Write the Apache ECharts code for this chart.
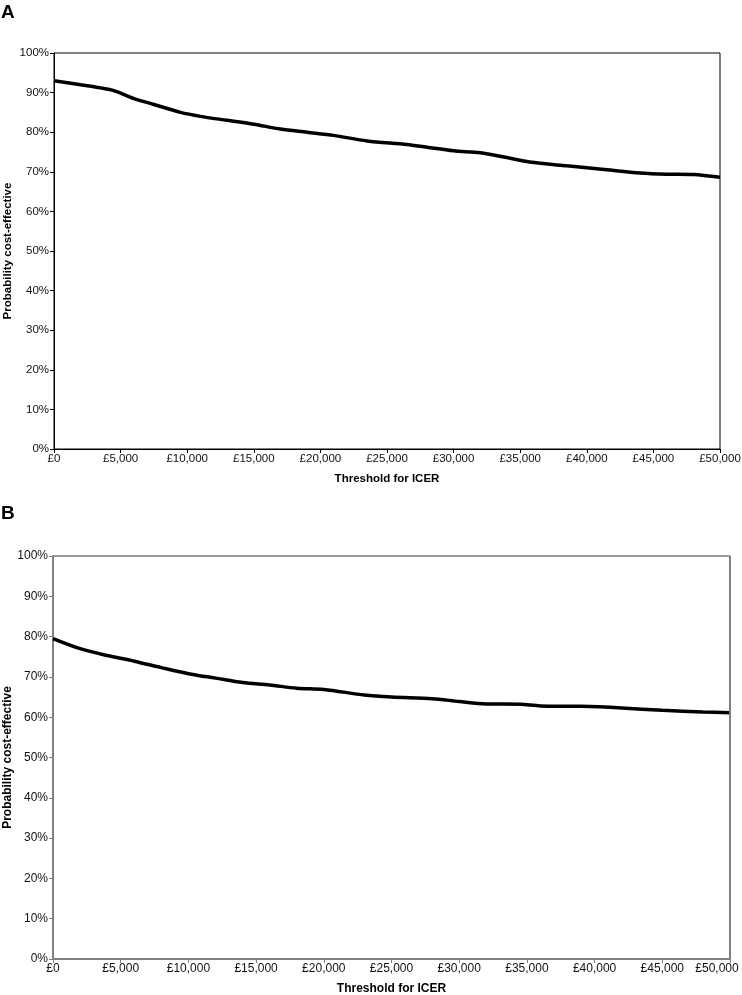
<!DOCTYPE html>
<html>
<head>
<meta charset="utf-8">
<script src="https://cdn.jsdelivr.net/npm/echarts@6/dist/echarts.min.js"></script>
<style>
html,body{margin:0;padding:0;background:#fff;}
#chart{width:742px;height:995px;}
</style>
</head>
<body>
<div id="chart"></div>
<script>
// Panel A: threshold (£) and probability cost-effective (%)
const thresholdA = [0,2000,3500,4500,6000,7500,9500,11000,13000,15000,17000,19000,21000,23500,26500,28000,30000,32000,34000,35700,38500,41500,44000,46000,48000,50000];
const probA      = [93.0,92.0,91.2,90.5,88.5,87.0,85.0,84.0,83.0,82.0,80.8,80.0,79.2,77.8,76.9,76.2,75.3,74.8,73.6,72.5,71.5,70.5,69.7,69.4,69.3,68.6];
// Panel B
const thresholdB = [0,2000,4000,6000,8000,10000,12000,14000,16000,18000,20000,23000,25000,28000,30000,32000,34500,36000,39000,42000,45000,48000,50000];
const probB      = [79.5,77.0,75.3,73.9,72.3,70.8,69.7,68.6,68.0,67.2,66.9,65.5,65.0,64.6,63.9,63.3,63.2,62.8,62.7,62.3,61.7,61.3,61.1];
// Axis ticks
const xTicks = {min:0, max:50000, interval:5000};
const yTicks = {min:0, max:100, interval:10};
const panelLabels = ['A','B'];
const xTitle = 'Threshold for ICER';
const yTitle = 'Probability cost-effective';

const fmtNum = v => String(v).replace(/\B(?=(\d{3})+(?!\d))/g, ',');
const font = 'Liberation Sans, Arial, sans-serif';

function pairs(xs, ys){ return xs.map((x,i)=>[x, ys[i]]); }

function xAxis(idx, fs, lineColor, lineW){
  const shiftLast = idx === 1;
  return {
    type:'value', gridIndex:idx, min:xTicks.min, max:xTicks.max, interval:xTicks.interval,
    name:xTitle, nameLocation:'middle', nameGap: 24, nameMoveOverlap:false,
    nameTextStyle:{fontFamily:font, fontSize: idx===0?11.5:12, fontWeight:'bold', color:'#000'},
    axisLine:{show:true, onZero:false, lineStyle:{color:lineColor, width:lineW}},
    axisTick:{show:true, length:4, inside:false, lineStyle:{color:lineColor, width:1}},
    axisLabel:{fontFamily:font, fontSize:fs, color:'#111', margin:4,
      formatter: v => (shiftLast && v === xTicks.max) ? '{last|£' + fmtNum(v) + '}' : '£' + fmtNum(v),
      rich:{ last:{fontFamily:font, fontSize:fs, color:'#111', padding:[0,26,0,0]} }
    },
    splitLine:{show:false}
  };
}
function yAxis(idx, fs, lineColor, lineW){
  return {
    type:'value', gridIndex:idx, min:yTicks.min, max:yTicks.max, interval:yTicks.interval,
    name:yTitle, nameLocation:'middle', nameGap: idx===0 ? 40 : 39, nameRotate:90, nameMoveOverlap:false,
    nameTextStyle:{fontFamily:font, fontSize: idx===0?11.5:12, fontWeight:'bold', color:'#000'},
    axisLine:{show:true, onZero:false, lineStyle:{color:lineColor, width:lineW}},
    axisTick:{show:true, length:4, inside:false, lineStyle:{color:lineColor, width:1}},
    axisLabel:{fontFamily:font, fontSize:fs, color:'#111', margin:5, formatter: v => v + '%'},
    splitLine:{show:false}
  };
}

const chart = echarts.init(document.getElementById('chart'), null, {renderer:'canvas'});
chart.setOption({
  backgroundColor:'#fff',
  animation:false,
  graphic:[
    {type:'text', left:1, top:3, style:{text:panelLabels[0], font:'bold 19px '+font, fill:'#000'}},
    {type:'text', left:1, top:504, style:{text:panelLabels[1], font:'bold 19px '+font, fill:'#000'}}
  ],
  grid:[
    {left:54, top:53, width:666, height:396, containLabel:false, outerBoundsMode:'none',
     show:true, borderColor:'#000', borderWidth:1, backgroundColor:'#fff'},
    {left:53, top:556, width:677, height:403, containLabel:false, outerBoundsMode:'none',
     show:true, borderColor:'#333', borderWidth:1, backgroundColor:'#fff'}
  ],
  xAxis:[ xAxis(0, 11.5, '#000', 1), xAxis(1, 12, '#808080', 2) ],
  yAxis:[ yAxis(0, 11.5, '#000', 1), yAxis(1, 12, '#808080', 2) ],
  series:[
    {type:'line', xAxisIndex:0, yAxisIndex:0, data:pairs(thresholdA, probA), showSymbol:false, smooth:0.3,
     lineStyle:{color:'#000', width:3.5}},
    {type:'line', xAxisIndex:1, yAxisIndex:1, data:pairs(thresholdB, probB), showSymbol:false, smooth:0.3,
     lineStyle:{color:'#000', width:3.5}},
    // right border of panel B (gray, thicker)
    {type:'line', xAxisIndex:1, yAxisIndex:1, data:[[50000,0],[50000,100]], showSymbol:false, silent:true,
     lineStyle:{color:'#808080', width:2}}
  ]
});
</script>
</body>
</html>
